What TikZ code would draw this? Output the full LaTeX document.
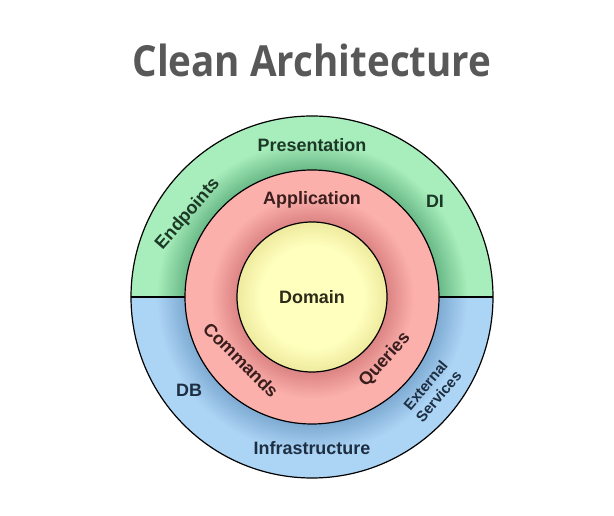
\documentclass[tikz,border=0pt]{standalone}
\usepackage{xcolor}
\usepackage{tikz}
\usepackage{fontspec}
\setmainfont{Liberation Sans}
\newfontfamily\titlefont{Open Sans}
\definecolor{titlegray}{RGB}{88,88,88}
\definecolor{glight}{RGB}{168,238,188}
\definecolor{gdark}{RGB}{104,184,134}
\definecolor{blight}{RGB}{172,212,245}
\definecolor{bdark}{RGB}{126,170,210}
\definecolor{rlight}{RGB}{251,176,172}
\definecolor{rdark}{RGB}{220,132,132}
\definecolor{ylight}{RGB}{255,255,190}
\definecolor{ydark}{RGB}{238,234,158}
\definecolor{gtext}{RGB}{28,56,38}
\definecolor{btext}{RGB}{30,46,66}
\definecolor{rtext}{RGB}{58,30,30}
\definecolor{ytext}{RGB}{44,42,24}
\pgfdeclareradialshading{greenring}{\pgfpoint{0bp}{0bp}}{color(0bp)=(gdark); color(17.5bp)=(gdark); color(21.5bp)=(glight); color(25bp)=(glight); color(50bp)=(glight)}
\pgfdeclareradialshading{bluering}{\pgfpoint{0bp}{0bp}}{color(0bp)=(bdark); color(17.5bp)=(bdark); color(21.5bp)=(blight); color(25bp)=(blight); color(50bp)=(blight)}
\pgfdeclareradialshading{redring}{\pgfpoint{0bp}{0bp}}{color(0bp)=(rdark); color(14.8bp)=(rdark); color(20bp)=(rlight); color(25bp)=(rlight); color(50bp)=(rlight)}
\pgfdeclareradialshading{yellowcore}{\pgfpoint{0bp}{0bp}}{color(0bp)=(ylight); color(17bp)=(ylight); color(25bp)=(ydark); color(50bp)=(ydark)}

\begin{document}
\begin{tikzpicture}[x=1bp, y=1bp, line width=1.2bp,
  layer/.style={font=\fontsize{18}{21}\selectfont\bfseries, anchor=base, inner sep=0pt},
  side/.style={font=\fontsize{18}{21}\selectfont\bfseries, inner sep=0pt},
  small/.style={font=\fontsize{15}{17}\selectfont\bfseries, inner sep=0pt, align=center}]
  \useasboundingbox (0,0) rectangle (614,516);
  \coordinate (c) at (312,219);
  % outer ring, split in two halves
  \begin{scope}
    \clip (120,219) rectangle (504,420);
    \shade[shading=greenring] (c) circle (181);
  \end{scope}
  \begin{scope}
    \clip (120,219) rectangle (504,20);
    \shade[shading=bluering] (c) circle (181);
  \end{scope}
  \draw ([xshift=-181bp]c) -- ([xshift=181bp]c);
  \draw (c) circle (181);
  % application ring and domain core
  \shade[shading=redring, draw=black] (c) circle (127);
  \shade[shading=yellowcore, draw=black] (c) circle (75);
  % labels
  \node[font=\titlefont\fontsize{43}{48}\selectfont\bfseries, text=titlegray, anchor=base, xscale=0.9] (title) at (312,439) {Clean Architecture};
  \node[layer, text=gtext] (presentation) at (312,364) {Presentation};
  \node[layer, text=rtext] (application) at (312,311) {Application};
  \node[layer, text=ytext] (domain) at (312,212) {Domain};
  \node[layer, text=btext] (infrastructure) at (312,61) {Infrastructure};
  \node[layer, text=gtext] (di) at (435,308) {DI};
  \node[layer, text=btext] (db) at (189,119) {DB};
  \node[side, text=gtext, rotate=49] (endpoints) at (188,302) {Endpoints};
  \node[side, text=rtext, rotate=-45] (commands) at (241,156) {Commands};
  \node[side, text=rtext, rotate=48] (queries) at (385,156) {Queries};
  \node[small, text=btext, rotate=50] (external) at (432,125) {External\\Services};
\end{tikzpicture}
\end{document}
